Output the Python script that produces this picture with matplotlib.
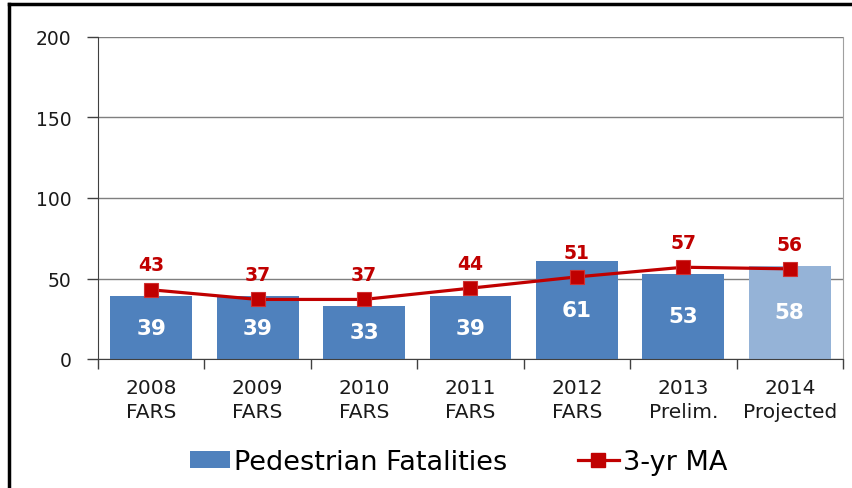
import matplotlib
matplotlib.use("Agg")
import matplotlib.pyplot as plt
from matplotlib.lines import Line2D
from matplotlib.patches import Patch
import numpy as np

plt.rcParams['font.family'] = ['DejaVu Sans']

categories = ["2008\nFARS", "2009\nFARS", "2010\nFARS", "2011\nFARS",
              "2012\nFARS", "2013\nPrelim.", "2014\nProjected"]
fatalities = [39, 39, 33, 39, 61, 53, 58]
moving_avg = [43, 37, 37, 44, 51, 57, 56]
yticks = [0, 50, 100, 150, 200]

bar_colors = ['#4F81BD'] * 6 + ['#95B3D7']
red = '#C00000'

fig = plt.figure(figsize=(8.53, 4.89), dpi=100)
ax = fig.add_axes([98/853, 1 - 360/489, (843-98)/853, (360-38)/489])

x = np.arange(len(categories))
bars = ax.bar(x, fatalities, width=0.77, color=bar_colors, zorder=2)
ax.plot(x, moving_avg, color=red, lw=2.3, marker='s', markersize=10,
        markerfacecolor=red, markeredgecolor='#D03030', markeredgewidth=0.8, zorder=3)

for xi, v in zip(x, fatalities):
    ax.text(xi, v / 2, str(v), ha='center', va='center', color='white',
            fontsize=15.5, fontweight='bold', zorder=4)
for xi, v in zip(x, moving_avg):
    ax.annotate(str(v), (xi, v), xytext=(0, 11), textcoords='offset points',
                ha='center', va='bottom', color=red, fontsize=13.5, fontweight='bold', zorder=4)

ax.set_xlim(-0.5, len(categories) - 0.5)
ax.set_ylim(0, 200)
ax.set_yticks(yticks)
ax.set_yticklabels([str(t) for t in yticks], fontsize=13.5, color='#1A1A1A')
ax.yaxis.grid(True, color='#7F7F7F', lw=1.0, zorder=0)
ax.set_axisbelow(True)

ax.set_xticks(x)
ax.set_xticklabels(categories, fontsize=14.5, color='#1A1A1A', linespacing=1.3)
ax.tick_params(axis='x', which='major', length=0, pad=14)
ax.set_xticks(np.arange(-0.5, len(categories)), minor=True)
ax.tick_params(axis='x', which='minor', length=7, width=1, color='#404040', direction='out')
ax.tick_params(axis='y', length=8, width=1, color='#404040', pad=11)

ax.spines['top'].set_visible(False)
ax.spines['right'].set_color('#A0A0A0')
ax.spines['left'].set_color('#404040')
ax.spines['bottom'].set_color('#404040')

handles = [Patch(facecolor='#4F81BD', edgecolor='none', label='Pedestrian Fatalities'),
           Line2D([0], [0], color=red, lw=2.3, marker='s', markersize=10,
                  markerfacecolor=red, label='3-yr MA')]
fig.legend(handles=handles, loc='center', bbox_to_anchor=(0.5375, 1 - 463/489),
           ncol=2, frameon=False, fontsize=19.5, handlelength=1.5, handleheight=0.55,
           columnspacing=2.6, handletextpad=0.15, borderpad=0, borderaxespad=0)

# frame lines
fig.add_artist(Line2D([9/853, 9/853], [0, 1 - 5/489], transform=fig.transFigure,
                      color='black', lw=2.5))
fig.add_artist(Line2D([9/853, 1], [1 - 5/489, 1 - 5/489], transform=fig.transFigure,
                      color='black', lw=2.5))

fig.savefig('out.png', dpi=100)
